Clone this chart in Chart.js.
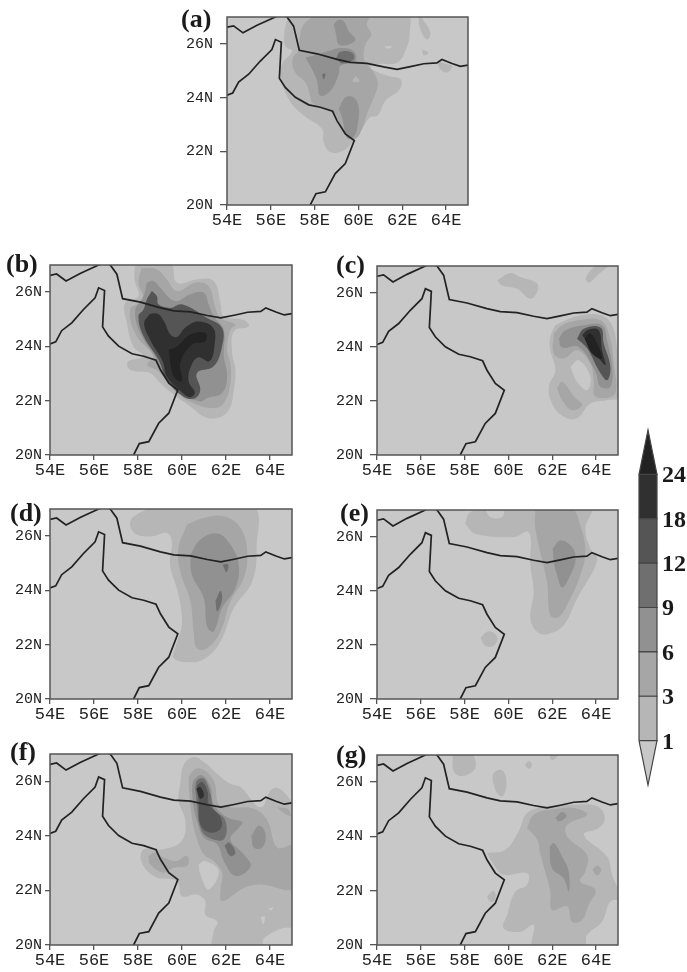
<!DOCTYPE html>
<html lang="en">
<head>
<meta charset="UTF-8">
<title>Rainfall panels</title>
<script src="https://cdn.jsdelivr.net/npm/chart.js"></script>
<style>
    html, body { margin: 0; background: #fff; overflow: hidden; }
    body { position: relative; width: 687px; height: 972px; }
    canvas { position: absolute; filter: blur(0.45px); }
</style>
</head>
<body>
<script>
// axis ticks
const lonTicks = [54, 56, 58, 60, 62, 64];
const latTicks = [20, 22, 24, 26];
const legendLabels = ['1', '3', '6', '9', '12', '18', '24'];

// coastlines, [lon, lat]
const coastNorth = [[54,26.62],[54.3,26.67],[54.73,26.41],[55.37,26.69],[56.21,27],[56.48,27.09],[56.74,27],[57.04,26.66],[57.3,25.76],[58.11,25.63],[59.02,25.42],[59.63,25.31],[60.39,25.27],[61.15,25.14],[61.76,25.05],[62.37,25.15],[62.98,25.26],[63.58,25.29],[63.81,25.42],[64.27,25.27],[64.65,25.16],[65,25.21]];
const coastSouth = [[54,24.09],[54.26,24.17],[54.53,24.58],[54.99,24.87],[55.52,25.36],[56.05,25.79],[56.21,26.16],[56.48,26.06],[56.39,24.72],[56.66,24.38],[57.12,24.01],[57.73,23.73],[58.26,23.64],[58.82,23.49],[59.02,23.14],[59.4,22.65],[59.81,22.4],[59.4,21.54],[58.94,21.17],[58.49,20.49],[58.06,20.42],[57.8,20]];

// contour shapes per panel: levels[i] is the colour class of shapes[i]
const levelsA = [1,1,1,1,2,3,3,3,4,4,1,0];
const shapesA = [
  [[56.77,27],[56.62,26.41],[56.66,25.92],[56.97,25.73],[56.51,25.24],[56.44,24.81],[56.86,23.88],[57.5,23.33],[58.34,22.83],[58.41,22.34],[58.72,21.97],[59.33,22.03],[59.78,22.4],[60.16,22.83],[60.54,23.27],[60.88,23.33],[61.23,23.88],[61.88,24.31],[61.92,24.68],[61.31,24.81],[60.54,25.11],[60.85,25.24],[61.76,25.3],[62.14,25.73],[62.34,26.41],[62.19,27.1],[56.8,27.1]],
  [[62.9,26.96],[63.28,26.41],[63.13,26.16],[62.83,26.53],[62.75,27.1]],
  [[62.9,25.79],[63.2,25.67],[62.98,25.58]],
  [[63.58,25.36],[64.05,25.24],[64.27,25.18],[64.05,24.93],[63.74,25.05]],
  [[58.11,27.1],[57.5,26.72],[57.32,26.22],[57.27,25.76],[57.01,25.48],[57.07,24.99],[57.58,24.56],[57.8,24.07],[57.88,23.82],[58.41,23.57],[58.87,23.45],[59.17,23.02],[59.48,22.59],[59.86,22.46],[60.16,22.83],[60.39,23.39],[60.7,24],[60.88,24.5],[60.7,24.93],[60.39,25.24],[60.24,25.48],[60.32,25.98],[60.58,26.35],[60.39,26.72],[60.5,27.1]],
  [[58.87,26.72],[59.1,26.9],[59.33,26.84],[59.56,26.47],[59.86,26.16],[59.56,25.98],[59.1,25.98],[58.98,26.35]],
  [[57.58,25.48],[58.11,25.6],[58.64,25.73],[59.17,25.85],[59.78,25.73],[59.86,25.36],[59.17,25.18],[59.1,24.87],[58.72,24.25],[58.26,24.07],[58.11,24.62],[57.88,25.05]],
  [[59.1,23.57],[59.4,24],[59.78,24],[60.01,23.64],[59.97,23.02],[59.78,22.53],[59.48,22.5],[59.25,23.27]],
  [[58.98,25.48],[59.17,25.71],[59.71,25.67],[59.78,25.42],[59.25,25.27]],
  [[58.34,24.87],[58.49,24.89],[58.41,24.68]],
  [[59.86,24.81],[60.06,24.62],[59.75,24.6]],
  [[61.15,25.9],[61.53,25.9],[61.38,25.82]]
];

const levelsB = [1,2,3,5,5,6,7];
const shapesB = [
  [[57.87,27.1],[57.84,26.47],[58.02,25.85],[57.41,25.6],[57.49,24.87],[57.79,24],[58.25,23.64],[57.56,23.45],[57.56,23.2],[57.94,23.08],[58.55,23.02],[59.01,22.65],[59.62,22.22],[60.38,21.79],[60.99,21.42],[61.6,21.36],[62.13,21.66],[62.36,22.4],[62.43,23.14],[62.28,23.76],[62.36,24.56],[63.04,24.74],[62.81,24.97],[61.9,25.11],[61.75,25.6],[61.44,26.41],[60.68,26.47],[59.77,26.35],[59.46,27.1]],
  [[58.17,26.9],[58.02,26.35],[58.25,25.73],[57.64,25.36],[57.94,24.38],[58.7,23.64],[58.4,23.33],[58.93,23.08],[59.77,22.28],[60.68,21.85],[61.44,21.73],[61.9,21.91],[62.2,22.65],[62.2,23.39],[62.05,23.88],[62.2,24.62],[62.43,24.81],[61.75,25.05],[61.52,25.42],[61.21,26.22],[60.6,26.35],[59.77,26.04],[59.31,26.47],[58.85,26.84]],
  [[58.4,26.35],[58.25,25.85],[57.87,25.3],[58.17,24.38],[58.86,23.51],[59.16,22.9],[59.92,22.28],[60.83,21.97],[61.14,22.1],[61.82,22.28],[62.05,22.9],[61.9,23.64],[61.9,24.62],[61.44,25.11],[61.21,25.55],[60.99,25.98],[60.38,25.92],[59.69,25.67],[59.01,26.16],[58.7,26.41]],
  [[58.63,26.04],[58.4,25.73],[58.25,25.36],[58.02,25.11],[58.25,24.38],[58.93,23.51],[59.31,22.77],[60.07,22.15],[60.6,22.09],[60.83,22.4],[60.68,23.02],[61.44,23.27],[61.82,24],[61.82,24.68],[61.14,25.05],[60,25.55],[59.46,25.42],[58.93,25.55],[58.86,25.85]],
  [[58.47,25.3],[58.17,24.93],[58.47,24.31],[59.08,23.45],[59.24,22.96],[59.77,22.4],[60.3,22.09],[60.6,22.28],[60.45,22.77],[60.83,23.33],[61.44,23.45],[61.6,24.13],[61.6,24.68],[60.83,25.05],[60.07,25.18],[59.31,25.11],[58.86,25.24]],
  [[58.55,25.2],[58.28,24.85],[58.55,24.25],[59.12,23.45],[59.3,22.9],[59.85,22.42],[60.35,22.13],[60.58,22.3],[60.3,22.72],[60.4,23.25],[60.75,23.6],[61.25,23.45],[61.48,24.05],[61.42,24.68],[60.75,24.92],[60.15,24.7],[59.77,24.35],[59.46,24.45],[59.2,24.9],[58.9,25.2]],
  [[59.39,23.88],[59.62,22.9],[60,22.72],[59.92,23.39],[60.45,24.07],[61.06,24.19],[61.06,24.5],[60.38,24.44],[59.77,24]]
];

const levelsC = [1,1,1,0,2,2,3,5,6,7];
const shapesC = [
  [[59.48,26.47],[60.09,26.74],[60.54,26.59],[61.31,26.35],[61.31,26.04],[61,25.79],[60.39,26.16],[59.71,26.28]],
  [[63.51,26.53],[63.74,26.84],[64.2,27.1],[64.65,27.1],[64.05,26.65],[63.66,26.38]],
  [[62.14,24.81],[63.13,25.14],[64.2,25.18],[64.73,24.81],[64.96,23.88],[65.1,22.16],[64.5,22.03],[63.74,21.91],[63.13,21.36],[62.52,21.42],[61.99,21.91],[61.84,22.53],[62.14,23.14],[61.91,23.88],[61.91,24.38]],
  [[62.83,23.27],[63.21,23.51],[63.74,22.9],[63.59,22.4],[63.13,22.71]],
  [[62.07,24.5],[62.45,24.81],[63.28,25],[64.2,24.99],[64.58,24.5],[64.81,23.39],[64.88,22.28],[63.97,22.16],[63.89,22.77],[63.74,23.39],[63.13,23.88],[62.52,23.57],[62.07,23.76]],
  [[62.22,22.47],[62.45,22.71],[63,22.16],[63.36,21.85],[62.9,21.66],[62.45,22.03]],
  [[62.3,24.31],[62.6,24.62],[63.44,24.81],[64.27,24.81],[64.5,24.25],[64.73,23.27],[64.65,22.53],[64.2,22.53],[63.97,23.08],[63.21,24],[62.45,23.98]],
  [[63.13,24.31],[63.44,24.68],[64.2,24.72],[64.35,24.13],[64.65,23.27],[64.5,22.77],[64.12,23.14],[63.59,23.95]],
  [[63.36,24.44],[63.66,24.65],[64.12,24.62],[64.27,23.88],[64.43,23.33],[63.97,23.76]],
  [[63.48,24.31],[63.71,24.5],[63.97,24.25],[64.27,23.57],[63.82,23.76]]
];

const levelsD = [1,2,3,4,4];
const shapesD = [
  [[57.71,26.67],[57.64,26.37],[57.94,26.06],[58.63,26],[59.31,26.12],[59.54,25.81],[59.46,24.95],[59.84,23.84],[59.99,22.73],[59.69,21.87],[59.62,21.5],[60.38,21.35],[61.06,21.5],[61.75,22.12],[62.36,23.35],[63.19,24.33],[63.39,25.57],[63.19,27.1],[58.85,27.1],[58.09,26.86]],
  [[60.23,26.43],[60.99,26.67],[61.9,26.73],[62.66,26.3],[62.96,25.44],[62.81,24.46],[62.2,23.6],[61.75,22.49],[61.14,21.87],[60.68,21.87],[60.53,22.49],[60.38,23.6],[59.92,24.7],[59.84,25.57]],
  [[60.38,25.32],[60.83,25.87],[61.6,26.1],[62.2,25.69],[62.58,24.95],[62.43,24.09],[61.82,23.35],[61.44,22.49],[61.14,22.67],[60.99,23.72],[60.45,24.58]],
  [[61.52,23.6],[61.75,23.99],[61.82,23.66],[61.6,23.23]],
  [[61.85,24.95],[62.1,24.95],[62.02,24.68]]
];

const levelsE = [1,1,2,3];
const shapesE = [
  [[58.03,26.49],[58.49,26.12],[60.24,26],[60.93,26.18],[61,24.95],[61.15,23.97],[61,22.98],[61.3,22.49],[61.76,22.4],[62.52,22.73],[63.13,23.72],[64.05,25.14],[63.74,25.57],[63.51,26.31],[63.74,27.1],[59.94,27.1],[59.71,26.74],[59.17,26.74],[58.87,27.1],[58.49,27],[58.18,26.86]],
  [[58.72,22.27],[59.1,22.51],[59.48,22.3],[59.33,21.97],[58.95,21.97]],
  [[61.23,27.1],[61.23,26.31],[61.76,24.34],[61.91,23.1],[62.3,23.04],[62.75,23.6],[63.28,24.58],[63.51,25.44],[63.28,26.43],[62.83,27.1]],
  [[62.02,25.57],[62.37,25.87],[62.9,25.63],[63.06,25.14],[62.75,24.46],[62.45,24.13],[62.22,24.58],[62.07,25.08]]
];

const levelsF = [1,0,0,0,2,2,2,3,4,4,5,6];
const shapesF = [
  [[59.92,25.91],[60.07,26.59],[60.53,26.89],[60.99,26.71],[61.6,26.28],[62.2,25.91],[62.66,25.79],[63.57,25.05],[64.11,25.73],[64.64,25.6],[65.1,24.87],[65.1,20.74],[64.5,20.6],[63.73,20.25],[63.57,19.9],[61.44,19.9],[61.44,20.49],[61.6,20.86],[61.06,21.11],[61.06,21.6],[60.68,21.85],[60,21.79],[59.77,22.34],[58.78,22.5],[58.17,23.02],[58.25,23.5],[59.16,23.51],[59.99,23.82],[60.15,24.56],[59.84,25.3]],
  [[60.76,22.95],[61.06,23.08],[61.67,22.71],[61.21,22.03],[60.83,22.59]],
  [[63.57,21.01],[63.76,21.05],[63.7,20.76]],
  [[63.92,21.33],[64.15,21.38],[64.03,21.26]],
  [[60.3,25.79],[60.38,26.28],[60.83,26.47],[61.44,26.03],[61.67,25.17],[62.2,25.05],[63.27,24.99],[63.88,24.56],[64.33,23.57],[65.1,23.63],[65.1,22.09],[63.57,22.22],[62.81,22.09],[61.82,21.6],[61.75,22.03],[61.82,22.65],[61.44,23.08],[61,23.32],[60.68,23.88],[60.45,24.68]],
  [[58.48,23.26],[58.78,23.39],[59.16,23.2],[59.77,23.08],[60.15,23.26],[60.3,23.2],[60.23,22.9],[59.62,22.83],[59.16,22.65],[58.55,22.96]],
  [[64.33,25.05],[64.79,24.99],[64.94,24.74],[64.6,24.85]],
  [[60.45,25.66],[60.53,26.03],[60.91,26.22],[61.29,25.79],[61.44,25.17],[62.05,24.68],[62.74,24.5],[62.59,24.31],[62.2,23.88],[62.81,23.32],[63.12,22.89],[62.43,22.53],[61.9,23.08],[61.6,23.69],[60.99,23.94],[60.68,24.56],[60.53,25.05]],
  [[60.6,25.73],[60.68,26.03],[60.99,26.1],[61.29,25.54],[61.44,24.99],[61.97,24.56],[61.9,23.88],[61.21,23.94],[60.83,24.31],[60.68,25.17]],
  [[61.93,23.63],[62.13,23.76],[62.43,23.39],[62.2,23.26]],
  [[60.68,25.85],[60.91,25.98],[61.17,25.6],[61.21,25.17],[61.75,24.68],[61.75,24.25],[61.21,24.13],[60.83,24.43],[60.76,25.17]],
  [[60.65,25.73],[60.83,25.79],[61,25.48],[60.83,25.36]]
];
const levelsF2 = [3];
const shapesF2 = [[[63.15,24],[63.5,24.37],[63.8,24.06],[63.65,23.57],[63.27,23.57]]];

const levelsG = [1,1,1,1,1,1,2,2,3,3];
const shapesG = [
  [[57.47,27.1],[57.5,26.4],[57.88,26.22],[58.49,26.53],[58.26,27.1]],
  [[59.28,26.03],[59.33,26.34],[59.71,26.44],[59.91,26.03],[59.75,25.48],[59.48,25.6]],
  [[60.74,26.65],[60.93,26.77],[61.08,26.63],[60.93,26.49]],
  [[61.84,27.1],[61.99,26.8],[62.34,27.1]],
  [[59.02,21.79],[59.33,22],[59.4,21.66],[59.17,21.6]],
  [[59.02,23.39],[59.86,23.51],[60.47,24.19],[60.85,24.86],[61.76,25.11],[62.98,25.17],[64.05,25.11],[64.4,24.68],[64.12,24.31],[63.44,24.06],[64.5,23.26],[64.73,22.59],[65.1,21.72],[64.65,21.6],[64.27,20.86],[63.59,20.37],[63.44,19.9],[61.15,19.9],[61.15,20.74],[60.54,20.49],[59.78,20.62],[59.94,21.11],[60.32,21.97],[60.85,22.22],[60.85,22.65],[59.78,22.59],[59.33,22.96]],
  [[60.85,24.31],[61.15,24.8],[61.99,24.99],[62.98,25.05],[63.59,24.8],[62.68,24.43],[62.68,24],[63.59,23.32],[63.51,22.71],[63.28,22.34],[63.97,22.03],[63.66,21.48],[63.36,20.92],[62.9,20.86],[62.68,21.42],[61.99,21.29],[61.91,21.97],[61.76,22.46],[61.46,23.33],[61.31,23.88]],
  [[63.82,22.77],[64.05,22.93],[64.24,22.77],[64.05,22.56]],
  [[61.88,23.63],[62.07,23.76],[62.45,23.26],[62.75,22.71],[62.75,21.97],[62.52,22.46],[61.99,22.83]],
  [[62.14,24.68],[62.45,24.9],[62.65,24.74],[62.3,24.55]]
];

// grey for each colour class, class 0 is the map background
const levelColors = ['#c8c8c8', '#b6b6b6', '#a6a6a6', '#919191', '#6f6f6f', '#555555', '#303030', '#222222'];

const panels = [
    { label: '(a)', px: 227, py: 16,  pw: 241, ph: 189, yPad: 7, tick: 7, labelX: 181, labelY: 27,  levels: levelsA, shapes: shapesA },
    { label: '(b)', px: 50,  py: 265, pw: 242, ph: 190, yPad: 3, tick: 5, labelX: 6,   labelY: 272, levels: levelsB, shapes: shapesB },
    { label: '(c)', px: 377, py: 265, pw: 241, ph: 190, yPad: 7, tick: 7, labelX: 336, labelY: 273, levels: levelsC, shapes: shapesC },
    { label: '(d)', px: 50,  py: 509, pw: 242, ph: 190, yPad: 3, tick: 5, labelX: 10,  labelY: 521, levels: levelsD, shapes: shapesD },
    { label: '(e)', px: 377, py: 509, pw: 241, ph: 190, yPad: 7, tick: 7, labelX: 340, labelY: 521, levels: levelsE, shapes: shapesE },
    { label: '(f)', px: 50,  py: 754, pw: 242, ph: 191, yPad: 3, tick: 5, labelX: 10,  labelY: 760, levels: levelsF.concat(levelsF2), shapes: shapesF.concat(shapesF2) },
    { label: '(g)', px: 377, py: 754, pw: 241, ph: 191, yPad: 7, tick: 7, labelX: 336, labelY: 763, levels: levelsG, shapes: shapesG }
];

const AXIS_W = 45, AXIS_H = 28, PAD_TOP = 15, PAD_RIGHT = 12;

function addCanvas(left, top, width, height) {
    const c = document.createElement('canvas');
    c.width = width;
    c.height = height;
    c.style.left = left + 'px';
    c.style.top = top + 'px';
    c.style.width = width + 'px';
    c.style.height = height + 'px';
    document.body.appendChild(c);
    return c.getContext('2d');
}

function closedRing(ring) {
    const pts = ring.map(p => ({ x: p[0], y: p[1] }));
    pts.push(pts[0]);
    return pts;
}

// paints the map background, softens the contour fills, draws the frame and panel letter
const mapFrame = {
    id: 'mapFrame',
    beforeDatasetsDraw(chart) {
        const a = chart.chartArea;
        chart.ctx.fillStyle = levelColors[0];
        chart.ctx.fillRect(a.left, a.top, a.width, a.height);
        chart.ctx.filter = 'blur(0.6px)';
    },
    beforeDatasetDraw(chart, args) {
        if (chart.data.datasets[args.index].order === -1) chart.ctx.filter = 'none';
    },
    afterDraw(chart, args, opts) {
        const a = chart.chartArea, ctx = chart.ctx;
        ctx.save();
        ctx.filter = 'none';
        ctx.strokeStyle = '#555';
        ctx.lineWidth = 1.5;
        ctx.strokeRect(a.left, a.top, a.width, a.height);
        ctx.fillStyle = '#1a1a1a';
        ctx.font = 'bold 26px "Liberation Serif"';
        ctx.textBaseline = 'alphabetic';
        ctx.fillText(opts.text, opts.x, opts.y);
        ctx.restore();
    }
};

panels.forEach(p => {
    const left = p.px - AXIS_W, top = p.py - PAD_TOP;
    const ctx = addCanvas(left, top, AXIS_W + p.pw + PAD_RIGHT, PAD_TOP + p.ph + AXIS_H);
    const n = p.shapes.length;
    const datasets = p.shapes.map((ring, i) => ({
        data: closedRing(ring),
        showLine: true,
        fill: 'shape',
        backgroundColor: levelColors[p.levels[i]],
        borderColor: 'transparent',
        borderWidth: 0,
        pointRadius: 0,
        tension: 0.4,
        order: n - i
    }));
    [coastNorth, coastSouth].forEach(coast => datasets.push({
        data: coast.map(q => ({ x: q[0], y: q[1] })),
        showLine: true,
        fill: false,
        borderColor: '#222',
        borderWidth: 1.7,
        pointRadius: 0,
        order: -1
    }));
    new Chart(ctx, {
        type: 'scatter',
        data: { datasets },
        plugins: [mapFrame],
        options: {
            responsive: false,
            animation: false,
            devicePixelRatio: 1,
            layout: { padding: { top: PAD_TOP, right: PAD_RIGHT } },
            plugins: {
                legend: { display: false },
                tooltip: { enabled: false },
                mapFrame: { text: p.label, x: p.labelX - left, y: p.labelY - top }
            },
            scales: {
                x: {
                    type: 'linear', min: 54, max: 65,
                    afterBuildTicks: s => { s.ticks = lonTicks.map(v => ({ value: v })); },
                    afterFit: s => { s.height = AXIS_H; },
                    grid: { drawOnChartArea: false, color: '#555', lineWidth: 1.3, tickLength: 5 },
                    border: { display: false },
                    ticks: { callback: v => v + 'E', color: '#222', padding: 0, maxRotation: 0, autoSkip: false,
                        font: { family: '"Liberation Mono"', size: 17 } }
                },
                y: {
                    type: 'linear', min: 20, max: 27,
                    afterBuildTicks: s => { s.ticks = latTicks.map(v => ({ value: v })); },
                    afterFit: s => { s.width = AXIS_W; },
                    grid: { drawOnChartArea: false, color: '#555', lineWidth: 1.3, tickLength: p.tick },
                    border: { display: false },
                    ticks: { callback: v => v + 'N', color: '#222', padding: p.yPad, autoSkip: false,
                        font: { family: '"Liberation Mono"', size: 15 } }
                }
            }
        }
    });
});

// colour bar: one box per class, triangles at both ends
const barCtx = addCanvas(630, 420, 57, 375);
const barDatasets = [
    { ring: [[0, 0], [0.5, -1], [1, 0]], level: 0 },
    { ring: [[0, 6], [0.5, 7], [1, 6]], level: 7 }
];
legendLabels.slice(0, -1).forEach((lab, i) => {
    barDatasets.push({ ring: [[0, i], [1, i], [1, i + 1], [0, i + 1]], level: i + 1 });
});
new Chart(barCtx, {
    type: 'scatter',
    data: {
        datasets: barDatasets.map(b => ({
            data: closedRing(b.ring),
            showLine: true,
            fill: 'shape',
            backgroundColor: levelColors[b.level],
            borderColor: '#444',
            borderWidth: 1.2,
            pointRadius: 0,
            clip: false
        }))
    },
    options: {
        responsive: false,
        animation: false,
        devicePixelRatio: 1,
        layout: { padding: { top: 10, bottom: 10, left: 9 } },
        plugins: { legend: { display: false }, tooltip: { enabled: false } },
        scales: {
            x: { type: 'linear', min: 0, max: 1, display: false },
            y: {
                type: 'linear', position: 'right', min: -1, max: 7,
                // labels sit a touch below the box edges in the original
                afterBuildTicks: s => { s.ticks = legendLabels.map((l, i) => ({ value: i - 0.04 })); },
                afterFit: s => { s.width = 30; s.paddingTop = 0; s.paddingBottom = 0; },
                grid: { display: false, drawTicks: false },
                border: { display: false },
                ticks: { callback: (v, i) => legendLabels[i], color: '#1a1a1a', padding: 5, autoSkip: false,
                    font: { family: '"Liberation Serif"', size: 24, weight: 'bold' } }
            }
        }
    }
});
</script>
</body>
</html>
